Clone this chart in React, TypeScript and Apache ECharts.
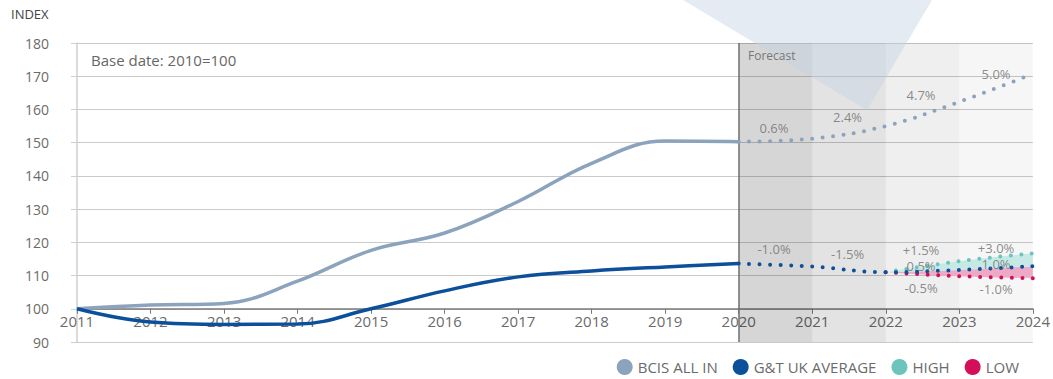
import React, { useEffect, useRef } from "react";
import * as echarts from "echarts";

const FONT = "'Open Sans', sans-serif";

const years = ["2011", "2012", "2013", "2014", "2015", "2016", "2017", "2018", "2019", "2020", "2021", "2022", "2023", "2024"];

const bcisHist = [100, 101.1, 101.6, 108.3, 117.6, 122.8, 132.3, 143.8, 150.5, 150.3];
const bcisForecast = [150.3, 151.2, 155.0, 162.3, 170.7]; // 2020..2024

const gtHist = [100, 96.0, 95.3, 95.4, 100.0, 105.4, 109.6, 111.4, 112.6, 113.6];
const gtForecast = [113.6, 112.7, 111.0, 111.7, 112.8]; // 2020..2024

const highForecast = [111.0, 114.3, 116.7]; // 2022..2024
const avgBand = [111.0, 111.7, 112.8]; // 2022..2024
const lowForecast = [111.0, 109.8, 109.2]; // 2022..2024

// growth annotations: [year position, index level, text]
const growthLabels: [number, number, string][] = [
  [2020.48, 154.4, "0.6%"],
  [2021.48, 157.7, "2.4%"],
  [2022.48, 164.4, "4.7%"],
  [2023.5, 170.7, "5.0%"],
  [2020.48, 118.0, "-1.0%"],
  [2021.48, 116.5, "-1.5%"],
  [2022.48, 117.7, "+1.5%"],
  [2022.48, 112.9, "0.5%"],
  [2022.48, 106.3, "-0.5%"],
  [2023.5, 118.3, "+3.0%"],
  [2023.5, 113.5, "1.0%"],
  [2023.5, 106.0, "-1.0%"],
];

const forecastShades: [string, string, string][] = [
  ["2020", "2021", "rgba(0,0,0,0.16)"],
  ["2021", "2022", "rgba(0,0,0,0.11)"],
  ["2022", "2023", "rgba(0,0,0,0.063)"],
  ["2023", "2024", "rgba(0,0,0,0.035)"],
];

const C_BCIS = "#8ba3bd";
const C_GT = "#0c4f9b";
const C_HIGH = "#6cc4bd";
const C_LOW = "#d30f5a";

// place a series that starts at a given year onto the full category list
const fromYear = (start: string, vals: (number | null)[]) => {
  const idx = years.indexOf(start);
  return years.map((_, i) => (i < idx || i >= idx + vals.length ? null : vals[i - idx]));
};

const dotted = (color: string) => ({
  color,
  width: 4,
  type: [0, 10.5] as any,
  cap: "round" as any,
});

export default function App() {
  const ref = useRef<HTMLDivElement>(null);
  useEffect(() => {
    if (!ref.current) return;
    const chart = echarts.init(ref.current, null, { renderer: "svg" });
    const option: any = {
      animation: false,
      textStyle: { fontFamily: FONT },
      grid: { left: 77, right: 16, top: 43, bottom: 37 },
      legend: {
        data: ["BCIS ALL IN", "G&T UK AVERAGE", "HIGH", "LOW"],
        right: 29,
        top: 354,
        icon: "circle",
        itemWidth: 16,
        itemHeight: 16,
        itemGap: 15,
        textStyle: { color: "#6b6b6b", fontSize: 15, fontFamily: FONT },
      },
      graphic: [
        {
          type: "polygon",
          z: 3,
          silent: true,
          shape: { points: [[683, 0], [867, 110], [932, 0]] },
          style: { fill: "rgb(198,210,226)", opacity: 0.45 },
        },
        {
          type: "text",
          left: 11,
          top: 7,
          style: { text: "INDEX", fill: "#444", fontSize: 13, fontFamily: FONT },
        },
        {
          type: "text",
          left: 91,
          top: 52,
          style: { text: "Base date: 2010=100", fill: "#666", fontSize: 15, fontFamily: FONT },
        },
        {
          type: "text",
          left: 748,
          top: 49,
          z: 10,
          style: { text: "Forecast", fill: "#777", fontSize: 12, fontFamily: FONT },
        },
      ],
      xAxis: [
        {
          type: "category",
          data: years,
          boundaryGap: false,
          offset: -33.2,
          axisLine: { lineStyle: { color: "#7a7a7a", width: 1.5 } },
          axisTick: { length: 5, interval: 0, lineStyle: { color: "#7a7a7a" } },
          axisLabel: { interval: 0, color: "#6b6b6b", fontSize: 15, margin: 5, fontFamily: FONT },
          splitLine: { show: false },
        },
        {
          type: "value",
          min: 2011,
          max: 2024,
          show: false,
        },
      ],
      yAxis: {
        type: "value",
        min: 90,
        max: 180,
        interval: 10,
        axisLine: { show: true, lineStyle: { color: "#cfcfcf", width: 1.5 } },
        axisTick: { show: true, length: 6, lineStyle: { color: "#cfcfcf" } },
        axisLabel: { color: "#6b6b6b", fontSize: 14, margin: 28, fontFamily: FONT },
        splitLine: { lineStyle: { color: "#cacaca" } },
      },
      series: [
        {
          name: "shades",
          type: "line",
          z: 1,
          data: [],
          silent: true,
          markArea: {
            silent: true,
            data: forecastShades.map(([a, b, c]) => [
              { xAxis: a, itemStyle: { color: c } },
              { xAxis: b },
            ]),
          },
          markLine: {
            silent: true,
            symbol: "none",
            label: { show: false },
            lineStyle: { color: "#6f6f6f", width: 1.5, type: "solid" },
            data: [{ xAxis: "2020" }],
          },
        },
        {
          name: "bandBase",
          type: "line",
          stack: "band",
          z: 4,
          smooth: 0.4,
          showSymbol: false,
          silent: true,
          lineStyle: { opacity: 0 },
          data: fromYear("2022", lowForecast),
        },
        {
          name: "bandLow",
          type: "line",
          stack: "band",
          z: 4,
          smooth: 0.4,
          showSymbol: false,
          silent: true,
          lineStyle: { opacity: 0 },
          areaStyle: { color: "#eda9c5", opacity: 1 },
          data: fromYear("2022", avgBand.map((v, i) => +(v - lowForecast[i]).toFixed(2))),
        },
        {
          name: "bandHigh",
          type: "line",
          stack: "band",
          z: 4,
          smooth: 0.4,
          showSymbol: false,
          silent: true,
          lineStyle: { opacity: 0 },
          areaStyle: { color: "#c6e9e6", opacity: 1 },
          data: fromYear("2022", highForecast.map((v, i) => +(v - avgBand[i]).toFixed(2))),
        },
        {
          name: "BCIS ALL IN",
          type: "line",
          z: 5,
          smooth: 0.4,
          showSymbol: false,
          itemStyle: { color: C_BCIS },
          lineStyle: { color: C_BCIS, width: 3.5 },
          data: fromYear("2011", bcisHist),
        },
        {
          name: "BCIS ALL IN",
          type: "line",
          z: 5,
          smooth: 0.4,
          showSymbol: false,
          itemStyle: { color: C_BCIS },
          lineStyle: dotted(C_BCIS),
          data: fromYear("2020", bcisForecast),
        },
        {
          name: "G&T UK AVERAGE",
          type: "line",
          z: 5,
          smooth: 0.4,
          showSymbol: false,
          itemStyle: { color: C_GT },
          lineStyle: { color: C_GT, width: 3.5 },
          data: fromYear("2011", gtHist),
        },
        {
          name: "HIGH",
          type: "line",
          z: 5,
          smooth: 0.4,
          showSymbol: false,
          itemStyle: { color: C_HIGH },
          lineStyle: dotted(C_HIGH),
          data: fromYear("2022", highForecast),
        },
        {
          name: "LOW",
          type: "line",
          z: 5,
          smooth: 0.4,
          showSymbol: false,
          itemStyle: { color: C_LOW },
          lineStyle: dotted(C_LOW),
          data: fromYear("2022", lowForecast),
        },
        {
          name: "G&T UK AVERAGE",
          type: "line",
          z: 6,
          smooth: 0.4,
          showSymbol: false,
          itemStyle: { color: C_GT },
          lineStyle: dotted(C_GT),
          data: fromYear("2020", gtForecast),
        },
        {
          name: "labels",
          type: "scatter",
          xAxisIndex: 1,
          z: 7,
          silent: true,
          symbol: "circle",
          symbolSize: 1,
          itemStyle: { color: "rgba(0,0,0,0)" },
          label: {
            show: true,
            position: "inside",
            formatter: (p: any) => p.data[2],
            color: "#6e6e6e",
            fontSize: 13,
            fontFamily: FONT,
          },
          data: growthLabels,
        },
      ],
    };
    chart.setOption(option);
    return () => chart.dispose();
  }, []);
  return (
    <div
      ref={ref}
      style={{ position: "absolute", left: 0, top: 0, width: 1053, height: 379 }}
    />
  );
}
